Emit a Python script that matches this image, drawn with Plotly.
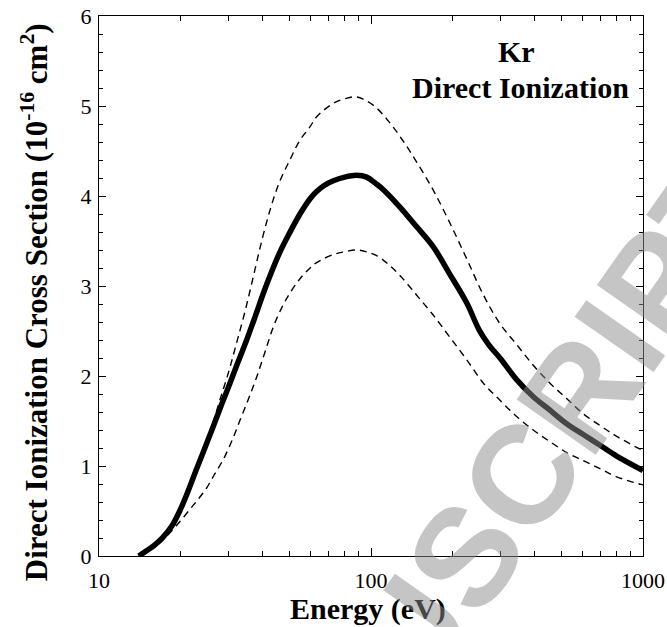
import plotly.graph_objects as go

# Thick solid curve: direct ionization cross section (1e-16 cm^2) vs energy (eV)
energy_main = [14.0, 15.0, 16.0, 17.2, 18.5, 19.8, 21.0, 22.8, 24.5, 26.3, 28.2, 30.3,
               32.5, 34.9, 37.5, 40.2, 43.0, 46.3, 50.0, 54.8, 59.7, 63.1, 67.5, 72.7,
               80.0, 88.5, 96.4, 104.0, 111.0, 127.5, 147.0, 169.0, 195.0, 225.0, 250.0,
               272.0, 298.0, 343.0, 395.0, 455.0, 524.0, 603.0, 695.0, 800.0, 1000.0]
sigma_main = [0.00, 0.06, 0.12, 0.21, 0.33, 0.50, 0.68, 0.96, 1.20, 1.44, 1.68, 1.92,
              2.16, 2.40, 2.66, 2.92, 3.15, 3.38, 3.58, 3.80, 3.97, 4.05, 4.12, 4.17,
              4.21, 4.23, 4.21, 4.14, 4.07, 3.88, 3.66, 3.44, 3.13, 2.81, 2.51,
              2.34, 2.20, 1.96, 1.77, 1.62, 1.47, 1.35, 1.23, 1.11, 0.95]

# Upper dashed bound
energy_upper = [14.0, 15.0, 16.5, 18.0, 19.5, 21.0, 22.5, 24.1, 26.0, 27.8, 30.0, 32.0,
                34.5, 36.9, 39.5, 42.5, 46.0, 50.3, 54.8, 59.7, 63.1, 72.7, 80.0, 88.5,
                101.8, 117.5, 132.0, 147.0, 169.0, 195.0, 225.0, 259.0, 298.0, 343.0,
                395.0, 455.0, 524.0, 603.0, 695.0, 800.0, 1000.0]
sigma_upper = [0.00, 0.05, 0.15, 0.28, 0.45, 0.70, 0.92, 1.14, 1.44, 1.73, 2.05, 2.36,
               2.73, 3.10, 3.48, 3.84, 4.15, 4.40, 4.62, 4.77, 4.88, 5.03, 5.08, 5.10,
               5.01, 4.81, 4.60, 4.38, 4.07, 3.70, 3.30, 2.90, 2.58, 2.35,
               2.12, 1.92, 1.75, 1.58, 1.45, 1.33, 1.17]

# Lower dashed bound
energy_lower = [14.0, 15.0, 16.5, 18.0, 19.8, 21.6, 23.0, 24.8, 26.5, 28.6, 30.8, 33.0,
                35.5, 38.0, 40.8, 43.8, 47.0, 50.3, 54.8, 59.7, 63.1, 72.7, 80.0, 88.5,
                96.0, 104.5, 115.0, 127.5, 147.0, 169.0, 195.0, 225.0, 259.0, 298.0,
                343.0, 395.0, 455.0, 524.0, 603.0, 695.0, 800.0, 1000.0]
sigma_lower = [0.00, 0.05, 0.13, 0.24, 0.38, 0.52, 0.62, 0.75, 0.90, 1.07, 1.28, 1.51,
               1.75, 1.99, 2.27, 2.55, 2.76, 2.92, 3.08, 3.20, 3.26, 3.35, 3.38, 3.40,
               3.38, 3.34, 3.25, 3.12, 2.90, 2.68, 2.43, 2.18, 1.92, 1.73,
               1.55, 1.40, 1.27, 1.15, 1.06, 0.97, 0.88, 0.79]

x_tickvals = [10, 100, 1000]
x_ticktext = ["10", "100", "1000"]
x_minorvals = [20, 30, 40, 50, 60, 70, 80, 90, 200, 300, 400, 500, 600, 700, 800, 900]
y_tickvals = [0, 1, 2, 3, 4, 5, 6]
y_ticktext = ["0", "1", "2", "3", "4", "5", "6"]

SERIF = "Liberation Serif, Times New Roman, serif"

fig = go.Figure()
fig.add_trace(go.Scatter(x=energy_upper, y=sigma_upper, mode="lines",
                         line=dict(color="black", width=1.4, dash="7px,5px", shape="spline"),
                         showlegend=False, hoverinfo="skip"))
fig.add_trace(go.Scatter(x=energy_lower, y=sigma_lower, mode="lines",
                         line=dict(color="black", width=1.4, dash="7px,5px", shape="spline"),
                         showlegend=False, hoverinfo="skip"))
fig.add_trace(go.Scatter(x=energy_main, y=sigma_main, mode="lines",
                         line=dict(color="black", width=5.5, shape="spline"),
                         showlegend=False, hoverinfo="skip"))

axis_common = dict(showline=True, linecolor="black", linewidth=1.2, mirror="allticks",
                   ticks="inside", tickcolor="black", tickwidth=1, showgrid=False,
                   zeroline=False, automargin=False, ticklabeloverflow="allow",
                   tickfont=dict(family=SERIF, size=22, color="black"))

fig.update_xaxes(type="log", range=[1, 3], tickmode="array", tickvals=x_tickvals,
                 ticktext=x_ticktext, ticklen=8, ticklabelstandoff=4,
                 minor=dict(ticks="inside", tickvals=x_minorvals, ticklen=5,
                            tickcolor="black", tickwidth=1, showgrid=False),
                 **axis_common)
fig.update_yaxes(range=[0, 6], tickmode="array", tickvals=y_tickvals, ticktext=y_ticktext,
                 ticklen=7, ticklabelstandoff=2,
                 minor=dict(ticks="inside", dtick=0.2, ticklen=4, tickcolor="black",
                            tickwidth=1, showgrid=False),
                 **axis_common)

annotations = [
    dict(text="Energy (eV)", xref="paper", yref="paper", x=0.495, y=-0.099,
         xanchor="center", yanchor="middle", showarrow=False,
         font=dict(family=SERIF, size=30, color="black", weight="bold")),
    dict(text="Direct Ionization Cross Section (10<sup>-16</sup> cm<sup>2</sup>)",
         xref="paper", yref="paper", x=-0.1195, y=0.47, textangle=-90,
         xanchor="center", yanchor="middle", showarrow=False,
         font=dict(family=SERIF, size=31, color="black", weight="bold")),
    dict(text="Kr", xref="paper", yref="paper", x=0.768, y=0.935,
         xanchor="center", yanchor="middle", showarrow=False,
         font=dict(family=SERIF, size=30, color="black", weight="bold")),
    dict(text="Direct Ionization", xref="paper", yref="paper", x=0.774, y=0.868,
         xanchor="center", yanchor="middle", showarrow=False,
         font=dict(family=SERIF, size=30, color="black", weight="bold")),
    dict(text="MANUSCRIPT", xref="paper", yref="paper", x=0.673, y=0.0,
         xanchor="center", yanchor="middle", showarrow=False, textangle=-55,
         font=dict(family="Liberation Sans Narrow, Liberation Sans, Arial, sans-serif",
                   size=140, color="rgba(140,140,140,0.5)", weight="bold")),
]

fig.update_layout(width=667, height=627, margin=dict(l=99, r=24, t=16, b=71),
                  paper_bgcolor="white", plot_bgcolor="white",
                  annotations=annotations, showlegend=False)

# remove the browser's default 8px body margin so the figure fills the window exactly
fig.write_html("out.html", config={"displayModeBar": False},
               post_script="document.body.style.margin='0';document.body.style.overflow='hidden';")
